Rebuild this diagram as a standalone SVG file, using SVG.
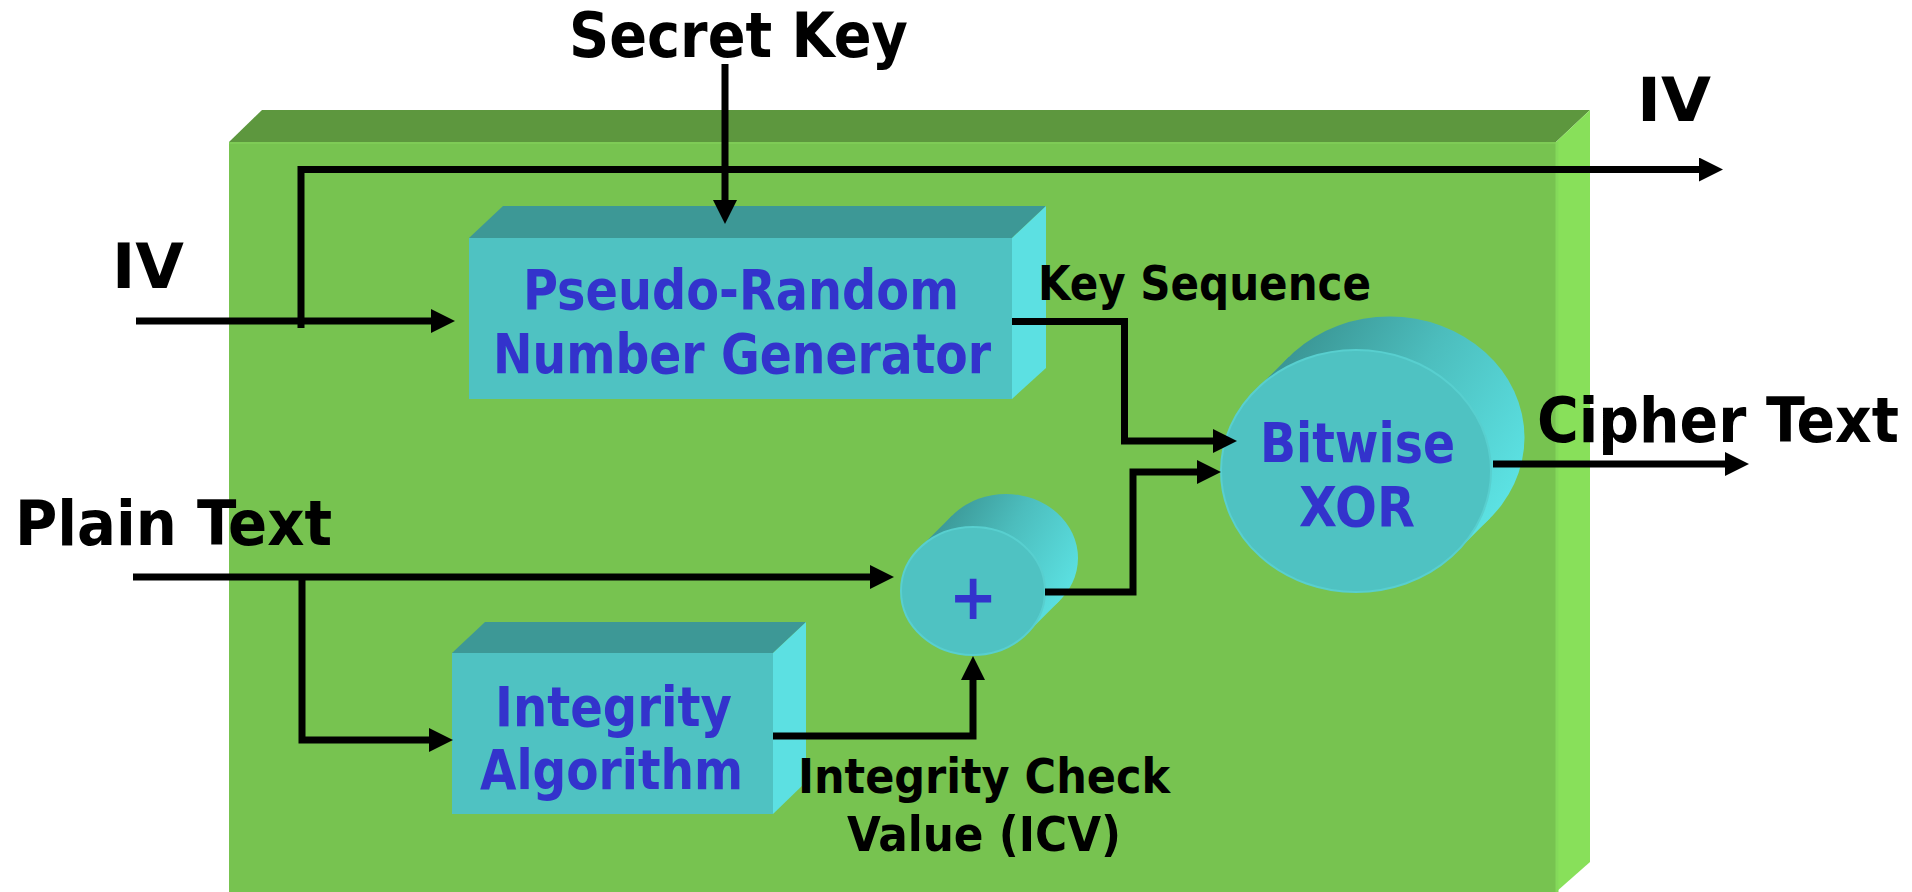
<svg xmlns="http://www.w3.org/2000/svg" width="1912" height="892" viewBox="0 0 1912 892">
<style>
.lbl{font-family:"DejaVu Sans Condensed","DejaVu Sans","Liberation Sans",sans-serif;font-weight:bold;fill:#000}
.blue{font-family:"DejaVu Sans Condensed","DejaVu Sans","Liberation Sans",sans-serif;font-weight:bold;fill:#3333CC}
.front{fill:#4FC2C2}
.top{fill:#3D9896}
.side{fill:#5CE0E2}
.wire{fill:none;stroke:#000;stroke-width:7;stroke-linejoin:miter}
.arr{marker-end:url(#ah)}
</style>
<defs>
<marker id="ah" viewBox="0 0 24 24" markerWidth="24" markerHeight="24" markerUnits="userSpaceOnUse" refX="3" refY="12" orient="auto">
<path d="M0,0 L24,12 L0,24 z" fill="#000"/>
</marker>
<linearGradient id="cylXor" gradientUnits="userSpaceOnUse" x1="1300" y1="330" x2="1520" y2="480">
<stop offset="0" stop-color="#3A9594"/>
<stop offset="0.45" stop-color="#4CBDBD"/>
<stop offset="1" stop-color="#5CE2E3"/>
</linearGradient>
<linearGradient id="cylPlus" gradientUnits="userSpaceOnUse" x1="940" y1="510" x2="1075" y2="590">
<stop offset="0" stop-color="#3A9594"/>
<stop offset="0.45" stop-color="#4CBDBD"/>
<stop offset="1" stop-color="#5CE2E3"/>
</linearGradient>
</defs>

<rect width="1912" height="892" fill="#fff"/>

<g id="container">
<polygon points="229,142 262,110 1590,110 1556,142" fill="#5D973E"/>
<polygon points="1556,142 1590,110 1590,862 1556,892" fill="#88E05A"/>
<rect x="229" y="142" width="1327" height="750" fill="#77C350"/>
<line x1="229" y1="143" x2="1556" y2="143" stroke="#7ECB56" stroke-width="2"/>
<line x1="1557" y1="142" x2="1557" y2="892" stroke="#84D95A" stroke-width="3"/>
</g>

<g id="prng">
<polygon class="top" points="469,238 503,206 1046,206 1012,238"/>
<polygon class="side" points="1012,238 1046,206 1046,368 1012,399"/>
<rect class="front" x="469" y="238" width="543" height="161"/>
<text class="blue" font-size="55" x="523" y="309" textLength="436" lengthAdjust="spacingAndGlyphs">Pseudo-Random</text>
<text class="blue" font-size="55" x="493" y="373" textLength="498" lengthAdjust="spacingAndGlyphs">Number Generator</text>
</g>

<g id="integrity">
<polygon class="top" points="452,653 485,622 806,622 773,653"/>
<polygon class="side" points="773,653 806,622 806,782 773,814"/>
<rect class="front" x="452" y="653" width="321" height="161"/>
<text class="blue" font-size="55" x="495" y="726" textLength="237" lengthAdjust="spacingAndGlyphs">Integrity</text>
<text class="blue" font-size="55" x="480" y="789" textLength="263" lengthAdjust="spacingAndGlyphs">Algorithm</text>
</g>

<g id="plus">
<ellipse cx="1006" cy="558" rx="72" ry="64" fill="url(#cylPlus)"/>
<polygon points="919.2,548.5 952.2,515.5 1059.8,600.5 1026.8,633.5" fill="url(#cylPlus)"/>
<ellipse cx="973" cy="591" rx="72" ry="64" fill="#4FC2C2" stroke="#58CFCF" stroke-width="2"/>
<text class="blue" font-size="64" x="973" y="619" text-anchor="middle">+</text>
</g>

<g id="xor">
<ellipse cx="1389.5" cy="437.5" rx="135" ry="121" fill="url(#cylXor)"/>
<polygon points="1255.5,390.2 1289,356.7 1490,518.3 1456.5,551.8" fill="url(#cylXor)"/>
<ellipse cx="1356" cy="471" rx="135" ry="121" fill="#4FC2C2" stroke="#58CFCF" stroke-width="2"/>
<text class="blue" font-size="55" x="1260" y="462" textLength="195" lengthAdjust="spacingAndGlyphs">Bitwise</text>
<text class="blue" font-size="55" x="1299" y="526" textLength="116" lengthAdjust="spacingAndGlyphs">XOR</text>
</g>

<g id="connectors">
<path class="wire arr" d="M725,64 V203"/>
<path class="wire arr" d="M301,328 V169.5 H1702"/>
<path class="wire arr" d="M136,321 H434"/>
<path class="wire arr" d="M1012,321.5 H1124.5 V441 H1216"/>
<path class="wire arr" d="M1045,592 H1133 V472 H1200"/>
<path class="wire arr" d="M133,577 H873"/>
<path class="wire arr" d="M302,577 V740 H432"/>
<path class="wire arr" d="M773,736 H973 V677"/>
<path class="wire arr" d="M1493,464 H1728"/>
</g>

<g id="labels">
<text class="lbl" font-size="62" x="569" y="57" textLength="339" lengthAdjust="spacingAndGlyphs">Secret Key</text>
<text class="lbl" font-size="60" x="1637" y="121" textLength="74" lengthAdjust="spacingAndGlyphs">IV</text>
<text class="lbl" font-size="62" x="112" y="288" textLength="72" lengthAdjust="spacingAndGlyphs">IV</text>
<text class="lbl" font-size="48" x="1038" y="300" textLength="333" lengthAdjust="spacingAndGlyphs">Key Sequence</text>
<text class="lbl" font-size="62" x="1537" y="442" textLength="362" lengthAdjust="spacingAndGlyphs">Cipher Text</text>
<text class="lbl" font-size="62" x="15" y="545" textLength="317" lengthAdjust="spacingAndGlyphs">Plain Text</text>
<text class="lbl" font-size="48" x="798" y="793" textLength="372" lengthAdjust="spacingAndGlyphs">Integrity Check</text>
<text class="lbl" font-size="48" x="847" y="851" textLength="274" lengthAdjust="spacingAndGlyphs">Value (ICV)</text>
</g>
</svg>
